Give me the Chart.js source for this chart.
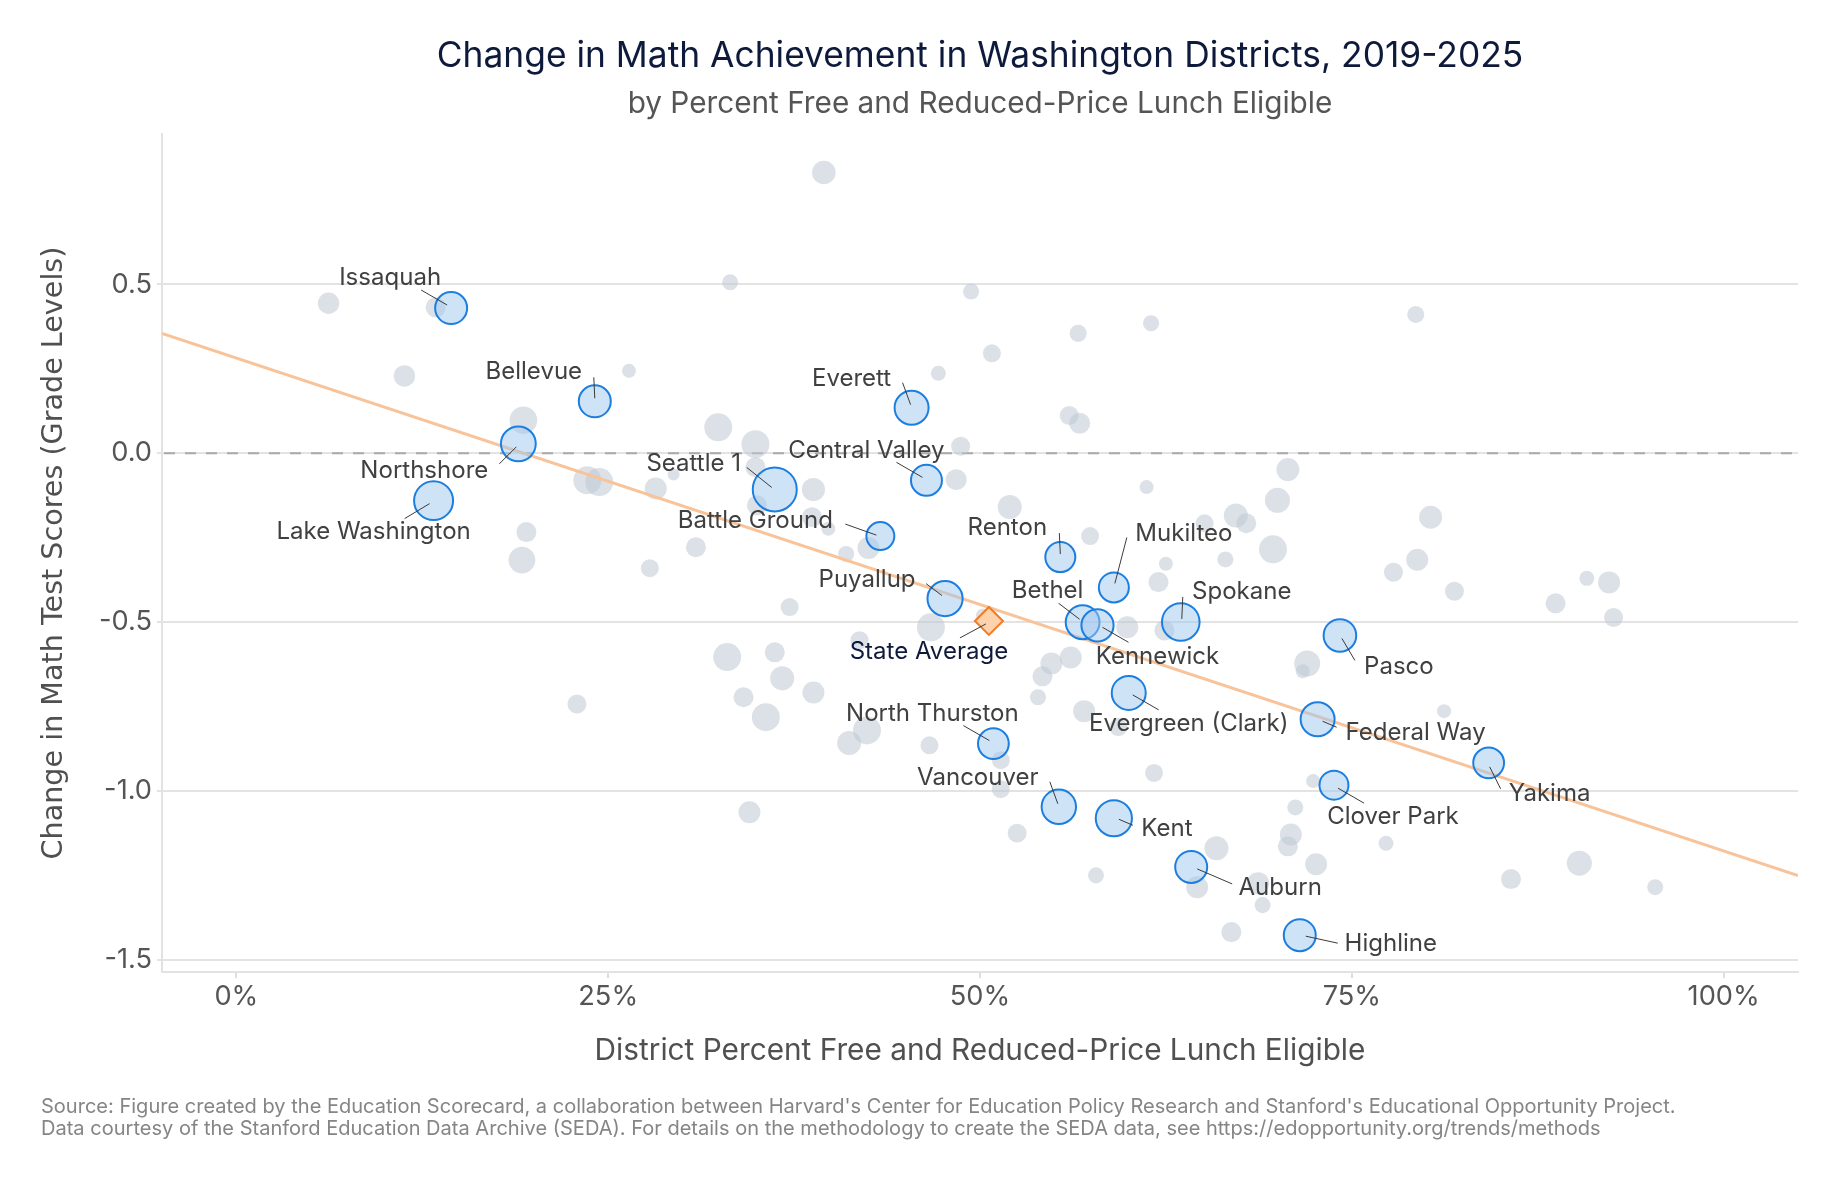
<!DOCTYPE html>
<html>
<head>
<meta charset="utf-8">
<script src="https://cdn.jsdelivr.net/npm/chart.js@4.4.1/dist/chart.umd.min.js"></script>
<style>
  html, body { margin: 0; padding: 0; background: #fff; }
  #wrap { width: 1841px; height: 1182px; position: relative; }
</style>
</head>
<body>
<div id="wrap"><canvas id="chart"></canvas></div>
<script>
// highlighted districts: x = % FRPL eligible, y = change in grade levels, enroll = students (thousands)
const districtNames = ['Issaquah', 'Bellevue', 'Northshore', 'Lake Washington', 'Everett', 'Seattle 1',
  'Central Valley', 'Battle Ground', 'Renton', 'Mukilteo', 'Puyallup', 'Bethel', 'Kennewick', 'Spokane',
  'Pasco', 'Evergreen (Clark)', 'Federal Way', 'North Thurston', 'Yakima', 'Clover Park', 'Vancouver',
  'Kent', 'Auburn', 'Highline'];
const districtX = [14.44, 24.1, 18.96, 13.26, 45.4, 36.2, 46.4, 43.3, 55.4, 59.0, 47.65, 56.9, 57.9, 63.5,
  74.2, 60.0, 72.7, 50.9, 84.2, 73.8, 55.3, 59.0, 64.2, 71.5];
const districtY = [0.430, 0.154, 0.028, -0.140, 0.135, -0.107, -0.080, -0.245, -0.307, -0.397, -0.430, -0.500,
  -0.509, -0.499, -0.539, -0.709, -0.787, -0.859, -0.916, -0.982, -1.046, -1.080, -1.224, -1.426];
const districtEnroll = [25, 25, 29.6, 37.1, 28.2, 47.3, 23.5, 19.1, 22, 22, 30.2, 27.9, 25.3, 34.5,
  26, 28.2, 28.2, 23.2, 23.2, 20.5, 28.9, 32, 25, 25];

// all other districts (grey)
const otherX = [6.2, 11.3, 13.4, 19.3, 23.6, 24.4, 26.4, 28.2, 29.4, 19.5, 19.2, 22.9, 27.8, 30.9, 32.4, 33.2,
  34.9, 34.9, 35.0, 38.8, 38.7, 39.8, 41.0, 42.5, 39.5, 49.4, 56.6, 61.5, 50.8, 47.2, 56.0, 56.7, 48.7, 48.4,
  61.2, 52.0, 57.4, 67.2, 67.9, 65.1, 79.3, 70.7, 70.0, 80.3, 69.7, 79.4, 37.2, 46.7, 50.2, 33.0, 36.2, 36.7,
  38.8, 34.1, 35.6, 42.4, 41.2, 46.6, 41.9, 34.5, 51.4, 51.4, 52.5, 53.9, 54.2, 54.8, 56.1, 57.0, 59.3, 59.9,
  62.4, 62.0, 62.5, 66.5, 61.7, 57.8, 65.9, 64.6, 66.9, 77.8, 81.9, 90.8, 92.3, 88.7, 92.6, 72.0, 71.7, 81.2,
  72.4, 71.2, 70.9, 70.7, 77.3, 72.6, 90.3, 85.7, 95.4, 68.7, 69.0];
const otherY = [0.444, 0.229, 0.432, 0.098, -0.080, -0.085, 0.244, -0.104, -0.063, -0.233, -0.316, -0.742,
  -0.340, -0.278, 0.077, 0.506, 0.027, -0.041, -0.154, -0.107, -0.189, -0.223, -0.298, -0.280, 0.831, 0.479,
  0.355, 0.385, 0.296, 0.237, 0.112, 0.089, 0.021, -0.078, -0.100, -0.159, -0.245, -0.184, -0.207, -0.207,
  0.411, -0.048, -0.139, -0.189, -0.284, -0.315, -0.455, -0.515, -0.480, -0.603, -0.589, -0.666, -0.708,
  -0.722, -0.781, -0.820, -0.857, -0.864, -0.553, -1.062, -0.994, -0.908, -1.124, -0.722, -0.660, -0.622,
  -0.604, -0.763, -0.810, -0.515, -0.524, -0.381, -0.327, -0.314, -0.946, -1.249, -1.169, -1.284, -1.417,
  -0.352, -0.408, -0.370, -0.382, -0.444, -0.486, -0.622, -0.645, -0.763, -0.970, -1.048, -1.128, -1.163,
  -1.154, -1.216, -1.213, -1.260, -1.284, -1.272, -1.337];
const otherEnroll = [11.2, 11.2, 9.8, 18.6, 19.1, 19.1, 4.8, 11.8, 3.5, 9.8, 17.5, 8.8, 7.9, 9.8, 19.1, 6.3,
  19.1, 9.8, 9.8, 13.1, 9.8, 4.8, 6.3, 11.8, 13.6, 6.3, 7.1, 6.3, 7.9, 5.5, 8.8, 10.8, 8.8, 10.8, 4.8, 14.1,
  7.9, 14.1, 9.8, 7.9, 7.1, 12.9, 15.3, 12.9, 19.1, 11.8, 7.9, 19.1, 4.8, 19.1, 9.8, 14.1, 11.8, 9.8, 19.1,
  19.1, 14.1, 7.9, 7.9, 11.8, 7.9, 7.9, 8.8, 6.3, 9.8, 11.8, 11.8, 11.8, 7.9, 11.8, 9.8, 9.8, 4.8, 6.3, 7.9,
  6.3, 14.1, 11.8, 9.8, 8.8, 8.8, 5.5, 11.8, 9.8, 8.8, 16.5, 4.8, 4.8, 4.8, 6.3, 11.8, 9.8, 5.5, 11.8, 15.3,
  9.8, 6.3, 11.8, 6.3];

const stateX = [50.6];
const stateY = [-0.496];

// fitted line end points
const trendX = [-5, 105];
const trendY = [0.355, -1.25];

const xTicks = [0, 25, 50, 75, 100];
const yTicks = [0.5, 0, -0.5, -1, -1.5];

const titleText = 'Change in Math Achievement in Washington Districts, 2019-2025';
const subtitleText = 'by Percent Free and Reduced-Price Lunch Eligible';
const xTitle = 'District Percent Free and Reduced-Price Lunch Eligible';
const yTitle = 'Change in Math Test Scores (Grade Levels)';
const footerLines = [
  "Source: Figure created by the Education Scorecard, a collaboration between Harvard's Center for Education Policy Research and Stanford's Educational Opportunity Project.",
  'Data courtesy of the Stanford Education Data Archive (SEDA). For details on the methodology to create the SEDA data, see https://edopportunity.org/trends/methods'
];

// label layout: text centre offset, then leader line start/end, in px from the point
const labelLayout = {
  'Issaquah': [-61, -30, -30, -18, -4, -3],
  'Bellevue': [-61, -30, -1, -24, 0, -3],
  'Northshore': [-94, 27, -19, 20, -2, 3],
  'Lake Washington': [-60, 31, -29, 18, -4, 3],
  'Everett': [-60, -29, -9, -25, -1, -3],
  'Seattle 1': [-81, -26, -28, -22, -3, -2],
  'Central Valley': [-60, -30, -30, -18, -4, -3],
  'Battle Ground': [-125, -15, -35, -12, -4, -1],
  'Renton': [-53, -29, -1, -24, 0, -3],
  'Mukilteo': [70, -54, 13, -50, 1, -4],
  'Puyallup': [-78, -19, -19, -15, -3, -3],
  'Bethel': [-35, -31, -24, -19, -3, -3],
  'Kennewick': [60, 31, 5, 2, 31, 17],
  'Spokane': [61, -30, 2, -25, 1, -3],
  'Pasco': [59, 31, 2, 3, 15, 25],
  'Evergreen (Clark)': [60, 31, 4, 2, 30, 17],
  'Federal Way': [98, 14, 5, 2, 19, 8],
  'North Thurston': [-61, -30, -30, -18, -4, -3],
  'Yakima': [61, 31, 1, 4, 12, 26],
  'Clover Park': [59, 32, 4, 3, 30, 18],
  'Vancouver': [-81, -29, -9, -25, -1, -3],
  'Kent': [53, 11, 5, 1, 19, 7],
  'Auburn': [89, 21, 6, 2, 41, 17],
  'Highline': [91, 9, 6, 1, 38, 8],
  'State Average': [-60, 31, -29, 17, -3, 3]
};

// font size that makes a string a given width
const mctx = document.createElement('canvas').getContext('2d');
function fitSize(text, family, width) {
  mctx.font = '100px ' + family;
  return 100 * width / mctx.measureText(text).width;
}
const SANS = 'Inter, "Noto Sans", sans-serif';
const titleSize = fitSize(titleText, SANS, 1087);
const subSize = fitSize(subtitleText, SANS, 705);
const xTitleSize = fitSize(xTitle, SANS, 771);
const yTitleSize = fitSize(yTitle, '"DejaVu Sans"', 613);
const tickSize = fitSize('-0.5', SANS, 53);
const labelSize = fitSize('Issaquah', SANS, 102);
const footSize = fitSize(footerLines[0], SANS, 1636);

const radiusFor = e => 3.2 * Math.sqrt(e);

const extras = {
  id: 'extras',
  beforeDatasetsDraw(chart) {
    // dashed zero line
    const { ctx, chartArea, scales } = chart;
    const y0 = scales.y.getPixelForValue(0);
    ctx.save();
    ctx.strokeStyle = '#a9a9a9';
    ctx.lineWidth = 2;
    ctx.setLineDash([11, 10]);
    ctx.beginPath();
    ctx.moveTo(chartArea.left + 2, y0);
    ctx.lineTo(chartArea.right, y0);
    ctx.stroke();
    ctx.restore();
  },
  afterDraw(chart) {
    const { ctx, chartArea } = chart;
    const cx = (chartArea.left + chartArea.right) / 2;
    ctx.save();
    ctx.textAlign = 'center';
    ctx.textBaseline = 'middle';
    ctx.fillStyle = '#0e1a3b';
    ctx.font = titleSize + 'px ' + SANS;
    ctx.fillText(titleText, cx, 56);
    ctx.fillStyle = '#555555';
    ctx.font = subSize + 'px ' + SANS;
    ctx.fillText(subtitleText, cx, 104);

    ctx.textAlign = 'left';
    ctx.fillStyle = '#858585';
    ctx.font = footSize + 'px ' + SANS;
    ctx.fillText(footerLines[0], 41, 1107);
    ctx.fillText(footerLines[1], 41, 1129);

    // district labels with leader lines
    const drawLabel = (name, pt, color) => {
      const l = labelLayout[name];
      ctx.strokeStyle = '#3a3a3a';
      ctx.lineWidth = 1;
      ctx.beginPath();
      ctx.moveTo(pt.x + l[2], pt.y + l[3]);
      ctx.lineTo(pt.x + l[4], pt.y + l[5]);
      ctx.stroke();
      ctx.fillStyle = color;
      ctx.textAlign = 'center';
      ctx.font = labelSize + 'px ' + SANS;
      ctx.fillText(name, pt.x + l[0], pt.y + l[1]);
    };
    const blue = chart.getDatasetMeta(1).data;
    districtNames.forEach((n, i) => drawLabel(n, blue[i], '#404040'));
    drawLabel('State Average', chart.getDatasetMeta(0).data[0], '#0e1a3b');
    ctx.restore();
  }
};

const ctx = document.getElementById('chart').getContext('2d');
new Chart(ctx, {
  type: 'scatter',
  data: {
    datasets: [
      {
        label: 'State Average',
        data: stateX.map((x, i) => ({ x, y: stateY[i] })),
        pointStyle: 'rectRot',
        pointRadius: 14,
        backgroundColor: '#fdd2ad',
        borderColor: '#f47b1f',
        borderWidth: 2,
        order: 0
      },
      {
        label: 'Highlighted districts',
        data: districtX.map((x, i) => ({ x, y: districtY[i] })),
        pointRadius: c => radiusFor(districtEnroll[c.dataIndex]),
        backgroundColor: 'rgba(160, 200, 240, 0.5)',
        borderColor: '#1c7fe0',
        borderWidth: 2,
        order: 1
      },
      {
        type: 'line',
        label: 'Trend',
        data: trendX.map((x, i) => ({ x, y: trendY[i] })),
        borderColor: '#f9c39a',
        borderWidth: 3,
        pointRadius: 0,
        fill: false,
        order: 2
      },
      {
        label: 'Other districts',
        data: otherX.map((x, i) => ({ x, y: otherY[i] })),
        pointRadius: c => radiusFor(otherEnroll[c.dataIndex]),
        backgroundColor: 'rgba(190, 200, 212, 0.55)',
        borderWidth: 0,
        order: 3
      }
    ]
  },
  plugins: [extras],
  options: {
    responsive: true,
    maintainAspectRatio: false,
    animation: false,
    events: [],
    layout: { padding: { top: 134, left: 33, right: 43, bottom: 109 } },
    plugins: { legend: { display: false }, tooltip: { enabled: false } },
    scales: {
      x: {
        type: 'linear',
        min: -5,
        max: 105,
        afterBuildTicks: s => { s.ticks = xTicks.map(v => ({ value: v })); },
        afterFit: s => { s.height = 101; },
        grid: { drawOnChartArea: false, drawTicks: true, tickLength: 6, color: '#dedede', lineWidth: 2 },
        border: { display: true, color: '#e2e2e2', width: 2 },
        ticks: {
          padding: 2,
          color: '#555555',
          font: { family: SANS, size: tickSize },
          callback: v => v + '%'
        },
        title: {
          display: true,
          text: xTitle,
          color: '#505050',
          font: { family: SANS, size: xTitleSize }
        }
      },
      y: {
        type: 'linear',
        min: -1.535,
        max: 0.945,
        afterBuildTicks: s => { s.ticks = yTicks.map(v => ({ value: v })); },
        afterFit: s => { s.width = 129; },
        grid: { color: '#e3e3e3', lineWidth: 2, tickLength: 5 },
        border: { display: true, color: '#e2e2e2', width: 2 },
        ticks: {
          padding: 5,
          color: '#555555',
          font: { family: SANS, size: tickSize },
          callback: v => v.toFixed(1)
        },
        title: {
          display: true,
          text: yTitle,
          color: '#505050',
          font: { family: '"DejaVu Sans", sans-serif', size: yTitleSize }
        }
      }
    }
  }
});
</script>
</body>
</html>
